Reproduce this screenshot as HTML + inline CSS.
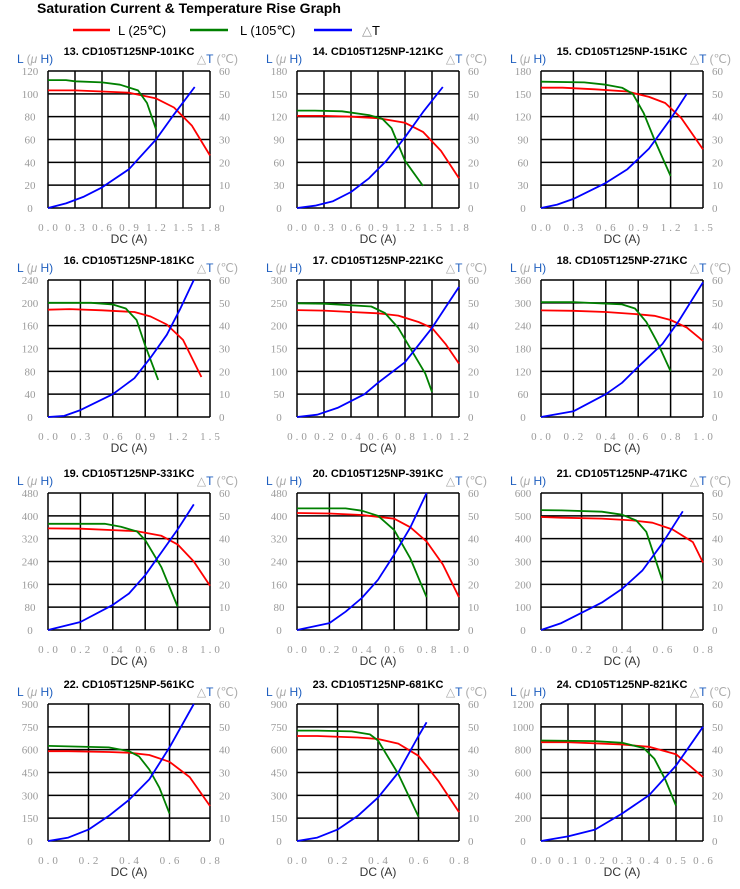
<!DOCTYPE html>
<html><head><meta charset="utf-8"><style>
html,body{margin:0;padding:0;background:#fff;width:740px;height:889px;overflow:hidden}
svg{display:block}
</style></head><body>
<svg id="root" width="740" height="889" xmlns="http://www.w3.org/2000/svg" font-family="Liberation Sans, sans-serif">
<text x="37" y="13" font-size="14" font-weight="bold" fill="#000">Saturation Current &amp; Temperature Rise  Graph</text>
<g>
<line x1="73" y1="30" x2="110" y2="30" stroke="#ff0000" stroke-width="2.5"/>
<text x="118" y="35" font-size="13" fill="#000">L (25℃)</text>
<line x1="190" y1="30" x2="228" y2="30" stroke="#008000" stroke-width="2.5"/>
<text x="240" y="35" font-size="13" fill="#000">L (105℃)</text>
<line x1="314" y1="30" x2="352" y2="30" stroke="#0000ff" stroke-width="2.5"/>
<text x="362" y="35" font-size="13" fill="#000"><tspan fill="#999">△</tspan>T</text>
</g>
</svg>
<script>
const chartTitles = ["13. CD105T125NP-101KC","14. CD105T125NP-121KC","15. CD105T125NP-151KC","16. CD105T125NP-181KC","17. CD105T125NP-221KC","18. CD105T125NP-271KC","19. CD105T125NP-331KC","20. CD105T125NP-391KC","21. CD105T125NP-471KC","22. CD105T125NP-561KC","23. CD105T125NP-681KC","24. CD105T125NP-821KC"];
const xMaxes = [1.8,1.8,1.5,1.5,1.2,1.0,1.0,1.0,0.8,0.8,0.8,0.6];
const xSteps = [0.3,0.3,0.3,0.3,0.2,0.2,0.2,0.2,0.2,0.2,0.2,0.1];
const lMaxes = [120,180,180,240,300,360,480,480,600,900,900,1200];
const tMax = 60;
const tTicks = [0,10,20,30,40,50,60];
const redSeries = [
 [[0,103],[0.3,103],[0.6,102],[0.9,101],[1.2,96],[1.4,88],[1.6,72],[1.8,46]],
 [[0,121],[0.3,121],[0.6,120],[0.9,118],[1.2,112],[1.4,100],[1.6,75],[1.8,39]],
 [[0,158],[0.2,158],[0.5,156],[0.8,153],[1.0,146],[1.15,138],[1.3,118],[1.5,77]],
 [[0,188],[0.2,189],[0.5,187],[0.8,184],[0.95,176],[1.1,162],[1.25,135],[1.42,70]],
 [[0,234],[0.2,233],[0.4,230],[0.6,227],[0.75,222],[0.9,208],[1.0,195],[1.1,160],[1.2,117]],
 [[0,280],[0.2,279],[0.4,276],[0.6,270],[0.7,266],[0.8,255],[0.9,235],[1.0,200]],
 [[0,356],[0.2,355],[0.4,350],[0.55,346],[0.7,330],[0.8,300],[0.9,240],[1.0,155]],
 [[0,410],[0.2,408],[0.4,403],[0.6,390],[0.7,360],[0.8,310],[0.9,230],[1.0,115]],
 [[0,495],[0.1,492],[0.3,488],[0.45,480],[0.55,470],[0.65,440],[0.75,385],[0.8,295]],
 [[0,590],[0.1,590],[0.3,585],[0.4,580],[0.5,565],[0.6,520],[0.7,420],[0.8,230]],
 [[0,690],[0.1,690],[0.3,680],[0.4,670],[0.5,640],[0.6,560],[0.7,390],[0.8,190]],
 [[0,865],[0.1,865],[0.3,845],[0.4,825],[0.5,760],[0.6,560]]
];
const greenSeries = [
 [[0,112],[0.2,112],[0.3,111],[0.6,110],[0.8,108],[1.0,103],[1.1,92],[1.2,69]],
 [[0,128],[0.2,128],[0.5,127],[0.8,122],[0.95,117],[1.05,105],[1.2,62],[1.4,29]],
 [[0,166],[0.4,165],[0.6,162],[0.75,158],[0.85,150],[0.95,125],[1.05,90],[1.2,42]],
 [[0,200],[0.4,200],[0.6,197],[0.72,190],[0.82,170],[0.9,125],[0.96,95],[1.02,65]],
 [[0,249],[0.2,248],[0.55,242],[0.65,228],[0.75,195],[0.85,145],[0.95,95],[1.0,55]],
 [[0,302],[0.2,302],[0.5,296],[0.58,285],[0.65,250],[0.72,195],[0.8,120]],
 [[0,372],[0.35,372],[0.45,362],[0.55,345],[0.6,315],[0.7,220],[0.8,82]],
 [[0,426],[0.3,426],[0.4,418],[0.5,400],[0.6,350],[0.7,250],[0.8,115]],
 [[0,525],[0.1,524],[0.3,518],[0.4,505],[0.47,480],[0.52,430],[0.6,215]],
 [[0,625],[0.3,615],[0.4,590],[0.45,555],[0.5,470],[0.55,350],[0.6,180]],
 [[0,725],[0.1,725],[0.27,720],[0.36,700],[0.4,660],[0.5,440],[0.6,160]],
 [[0,880],[0.2,875],[0.3,860],[0.38,815],[0.42,720],[0.46,540],[0.5,310]]
];
const blueSeries = [
 [[0,0],[0.2,2],[0.4,5],[0.6,9],[0.9,17],[1.2,30],[1.4,41],[1.63,53]],
 [[0,0],[0.2,1],[0.4,3],[0.6,7],[0.8,13],[1.0,21],[1.2,31],[1.4,42],[1.62,53]],
 [[0,0],[0.15,1.5],[0.3,4],[0.6,11],[0.8,17],[1.0,26],[1.2,39],[1.35,50]],
 [[0,0],[0.15,0.5],[0.3,3],[0.6,10],[0.8,17],[0.95,26],[1.1,36],[1.22,47],[1.35,60]],
 [[0,0],[0.15,1],[0.3,4],[0.5,10],[0.6,15],[0.8,24],[1.0,39],[1.2,57]],
 [[0,0],[0.2,2.5],[0.4,10],[0.5,15],[0.6,22],[0.75,32],[0.85,42],[1.0,59]],
 [[0,0],[0.2,3.5],[0.4,11],[0.5,16],[0.6,24],[0.7,34],[0.8,44],[0.9,55]],
 [[0,0],[0.2,3],[0.3,8],[0.4,14],[0.5,22],[0.6,33],[0.7,45],[0.8,60]],
 [[0,0],[0.1,3],[0.3,12],[0.4,18],[0.5,26],[0.6,38],[0.7,52]],
 [[0,0],[0.1,1.5],[0.2,5],[0.3,11],[0.4,18],[0.5,27],[0.6,41],[0.72,60]],
 [[0,0],[0.1,1.5],[0.2,5],[0.3,11],[0.4,19],[0.5,30],[0.6,46],[0.64,52]],
 [[0,0],[0.1,2],[0.2,5],[0.3,12],[0.4,20],[0.5,33],[0.6,50]]
];

const NS = "http://www.w3.org/2000/svg";
const root = document.getElementById("root");
const colLefts = [48, 297, 541];
const rowTops = [71, 280, 493, 704];
const PW = 162, PH = 137;

function mk(tag, attrs, parent, txt) {
  const e = document.createElementNS(NS, tag);
  for (const k in attrs) e.setAttribute(k, attrs[k]);
  if (txt !== undefined) e.textContent = txt;
  parent.appendChild(e);
  return e;
}

for (let i = 0; i < 12; i++) {
  const L = colLefts[i % 3], T = rowTops[Math.floor(i / 3)];
  const R = L + PW, B = T + PH;
  const xMax = xMaxes[i], lMax = lMaxes[i];
  const nCols = Math.round(xMax / xSteps[i]);
  const xs = v => L + v / xMax * PW;
  const yl = v => B - v / lMax * PH;
  const yt = v => B - v / tMax * PH;

  const g = mk("g", {}, root);
  
  

  const title = mk("text", {x: L + PW / 2, y: T - 16, "font-size": 11, "font-weight": "bold", "text-anchor": "middle", fill: "#000"}, g, chartTitles[i]);
  
  

  const ylab = mk("text", {x: L - 31, y: T - 8, "font-size": 12, fill: "#1f5fbf"}, g);
  
  
  mk("tspan", {}, ylab, "L ");
  mk("tspan", {fill: "#aaa"}, ylab, "(");
  mk("tspan", {fill: "#aaa", "font-style": "italic"}, ylab, "μ");
  mk("tspan", {}, ylab, " H)");

  const tlab = mk("text", {x: R + 28, y: T - 8, "font-size": 12, "text-anchor": "end", fill: "#1f5fbf"}, g);
  
  
  mk("tspan", {fill: "#aaa"}, tlab, "△");
  mk("tspan", {}, tlab, "T ");
  mk("tspan", {fill: "#aaa"}, tlab, "(℃)");

  const grid = mk("g", {stroke: "#000", "stroke-width": 1.5}, g);
  
  
  for (let k = 0; k <= 6; k++) {
    const y = yl(lMax / 6 * k);
    mk("line", {x1: L, x2: R, y1: y, y2: y}, grid);
  }
  for (let k = 0; k <= nCols; k++) {
    const x = xs(xSteps[i] * k);
    mk("line", {x1: x, x2: x, y1: T, y2: B}, grid);
  }

  const ticks = mk("g", {"font-family": "Liberation Serif, serif", "font-size": 11, fill: "#9a9a9a"}, g);
  
  
  for (let k = 0; k <= 6; k++) {
    const v = lMax / 6 * k;
    const t = mk("text", {x: L - 18, y: yl(v) + 4, "text-anchor": "middle"}, ticks, String(v));
    
    
  }
  tTicks.forEach(v => {
    const t = mk("text", {x: R + 9, y: yt(v) + 4}, ticks, String(v));
    
    
  });
  for (let k = 0; k <= nCols; k++) {
    const v = xSteps[i] * k;
    const t = mk("text", {x: xs(v) + 1.5, y: B + 23, "text-anchor": "middle", "letter-spacing": "3"}, ticks, v.toFixed(1));
    
    
  }
  const xt = mk("text", {x: L + PW / 2, y: B + 35, "text-anchor": "middle", "font-size": 12, fill: "#333"}, g, "DC (A)");
  
  

  const line = (pts, yf, color, name) => {
    const p = mk("polyline", {points: pts.map(d => xs(d[0]).toFixed(1) + "," + yf(d[1]).toFixed(1)).join(" "), fill: "none", stroke: color, "stroke-width": 1.8, "stroke-linejoin": "round"}, g);
    
    
  };
  line(redSeries[i], yl, "#ff0000", "l25-line");
  line(greenSeries[i], yl, "#008000", "l105-line");
  line(blueSeries[i], yt, "#0000ff", "temperature-rise-line");
}
</script>
</body></html>
